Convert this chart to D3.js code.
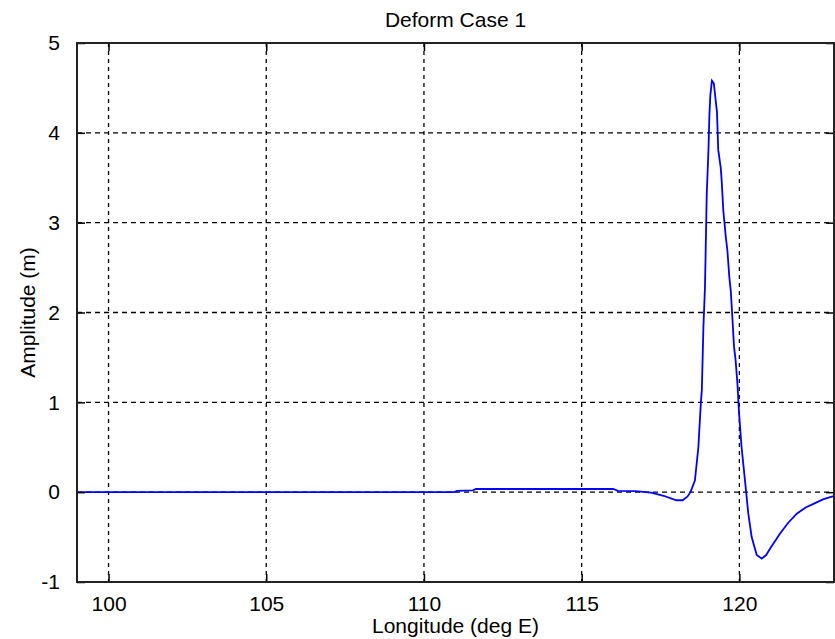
<!DOCTYPE html>
<html lang="en">
  <head>
    <meta charset="UTF-8">
    <title>Deform Case 1</title>
    <style>
      body { margin: 0; background: #fff; }
      svg { display: block; }
      text { font-family: "Liberation Sans", Arial, sans-serif; fill: #000; }
    </style>
    <script src="https://d3js.org/d3.v7.min.js"></script>
  </head>
  <body>
    <script>
      // data
      var lon = [99, 110.95, 111.05, 111.55, 111.65, 116.0, 116.15, 116.7, 117.2, 117.6,
                 118.0, 118.2, 118.35, 118.45, 118.59, 118.70, 118.78, 118.81, 118.86, 118.91,
                 118.965, 119.02, 119.05, 119.08, 119.13, 119.19, 119.24, 119.29, 119.33, 119.41,
                 119.44, 119.49, 119.57, 119.62, 119.68, 119.73, 119.78, 119.83, 119.88, 119.94,
                 119.99, 120.07, 120.21, 120.28, 120.39, 120.55, 120.71, 120.85, 120.97, 121.29,
                 121.55, 121.82, 122.1, 122.35, 122.65, 122.93, 123];
      var amp = [0, 0, 0.015, 0.02, 0.035, 0.035, 0.015, 0.012, -0.005, -0.04,
                 -0.09, -0.09, -0.05, 0.0, 0.13, 0.5, 1.0, 1.14, 1.84, 2.29,
                 3.31, 3.81, 4.2, 4.42, 4.58, 4.55, 4.39, 4.23, 3.81, 3.61,
                 3.46, 3.14, 2.84, 2.69, 2.40, 2.23, 1.93, 1.62, 1.47, 1.20,
                 0.88, 0.50, 0.02, -0.23, -0.50, -0.70, -0.74, -0.70, -0.63, -0.46,
                 -0.34, -0.24, -0.17, -0.13, -0.08, -0.05, -0.045];
      var xTicks = [100, 105, 110, 115, 120];
      var yTicks = [-1, 0, 1, 2, 3, 4, 5];
      var title = "Deform Case 1";
      var xLabel = "Longitude (deg E)";
      var yLabel = "Amplitude (m)";

      var W = 835, H = 639;
      var m = { left: 77, top: 43, right: 1, bottom: 57 };
      var w = W - m.left - m.right, h = H - m.top - m.bottom;

      var x = d3.scaleLinear().domain([99, 123]).range([0, w]);
      var y = d3.scaleLinear().domain([-1, 5]).range([h, 0]);

      var svg = d3.select("body").append("svg")
        .attr("width", W).attr("height", H);
      var g = svg.append("g").attr("transform", "translate(" + m.left + "," + m.top + ")");

      // grid (dashed, black)
      g.append("g").selectAll("line").data(xTicks).enter().append("line")
        .attr("x1", function (d) { return x(d); }).attr("x2", function (d) { return x(d); })
        .attr("y1", 0).attr("y2", h)
        .attr("stroke", "#000").attr("stroke-width", 1.3).attr("stroke-dasharray", "4,4");
      g.append("g").selectAll("line").data(yTicks.filter(function (d) { return d > -1 && d < 5; }))
        .enter().append("line")
        .attr("x1", 0).attr("x2", w)
        .attr("y1", function (d) { return y(d); }).attr("y2", function (d) { return y(d); })
        .attr("stroke", "#000").attr("stroke-width", 1.3).attr("stroke-dasharray", "5,4");

      // the curve
      var pts = lon.map(function (d, i) { return [d, amp[i]]; });
      g.append("path").datum(pts)
        .attr("fill", "none").attr("stroke", "#0000ff").attr("stroke-width", 1.8)
        .attr("d", d3.line().x(function (d) { return x(d[0]); }).y(function (d) { return y(d[1]); }));

      // axes, ticks pointing inward on all four sides
      var tk = 8;
      var axB = g.append("g").attr("transform", "translate(0," + h + ")")
        .call(d3.axisBottom(x).tickValues(xTicks).tickSizeInner(-tk).tickSizeOuter(0).tickPadding(14));
      var axT = g.append("g")
        .call(d3.axisTop(x).tickValues(xTicks).tickSizeInner(-tk).tickSizeOuter(0).tickFormat(""));
      var axL = g.append("g")
        .call(d3.axisLeft(y).tickValues(yTicks).tickFormat(function (d) { return String(d); })
          .tickSizeInner(-tk).tickSizeOuter(0).tickPadding(17));
      var axR = g.append("g").attr("transform", "translate(" + w + ",0)")
        .call(d3.axisRight(y).tickValues(yTicks).tickSizeInner(-tk).tickSizeOuter(0).tickFormat(""));
      [axB, axT, axL, axR].forEach(function (a) {
        a.select(".domain").remove();
        a.selectAll("line").attr("stroke", "#000").attr("stroke-width", 1.5);
        a.selectAll("text").style("font-size", "21px")
          .style("font-family", "'Liberation Sans', Arial, sans-serif");
      });
      axB.selectAll("text").attr("dy", "0.71em");

      // box
      g.append("rect").attr("x", 0).attr("y", 0).attr("width", w).attr("height", h)
        .attr("fill", "none").attr("stroke", "#222").attr("stroke-width", 2);

      // labels
      svg.append("text").attr("x", m.left + w / 2).attr("y", 27)
        .attr("text-anchor", "middle").style("font-size", "21px").text(title);
      svg.append("text").attr("x", m.left + w / 2).attr("y", 633)
        .attr("text-anchor", "middle").style("font-size", "21px").text(xLabel);
      svg.append("text")
        .attr("transform", "translate(35," + (m.top + h / 2) + ") rotate(-90)")
        .attr("text-anchor", "middle").style("font-size", "21px").text(yLabel);
    </script>
  </body>
</html>
